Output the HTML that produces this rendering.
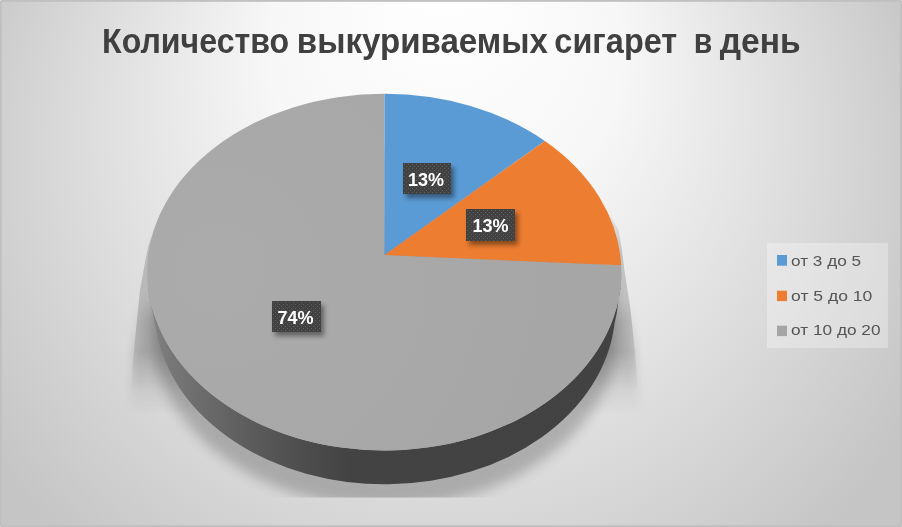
<!DOCTYPE html>
<html><head><meta charset="utf-8">
<style>
html,body{margin:0;padding:0;width:902px;height:527px;overflow:hidden;background:#d0d0d0;}
#c{position:relative;width:902px;height:527px;}
svg{position:absolute;left:0;top:0;will-change:transform;}
.t{font-family:"Liberation Sans","DejaVu Sans",sans-serif;}
</style></head><body><div id="c">
<svg width="902" height="527" viewBox="0 0 902 527">
<defs>
<radialGradient id="bg" gradientUnits="userSpaceOnUse" cx="440.3" cy="206.52" r="519.2" fx="447.6" fy="-25.06" gradientTransform="scale(1 0.96154)">
<stop offset="0" stop-color="#ffffff"/>
<stop offset="0.337" stop-color="#f7f7f7"/>
<stop offset="1" stop-color="#c5c5c5"/>
</radialGradient>
<linearGradient id="wall" gradientUnits="userSpaceOnUse" x1="150" y1="0" x2="622" y2="0">
<stop offset="0" stop-color="#828282"/>
<stop offset="0.042" stop-color="#787878"/>
<stop offset="0.106" stop-color="#6c6c6c"/>
<stop offset="0.212" stop-color="#5c5c5c"/>
<stop offset="0.318" stop-color="#4e4e4e"/>
<stop offset="0.424" stop-color="#434343"/>
<stop offset="1" stop-color="#424242"/>
</linearGradient>
<radialGradient id="gtop" gradientUnits="userSpaceOnUse" cx="220" cy="270" r="360">
<stop offset="0" stop-color="#ababab"/>
<stop offset="1" stop-color="#a6a6a6"/>
</radialGradient>
<filter id="sh1" x="-20%" y="-20%" width="140%" height="140%"><feGaussianBlur stdDeviation="0.6"/></filter>
<filter id="sh3" x="-20%" y="-20%" width="140%" height="140%"><feGaussianBlur stdDeviation="5"/></filter>
<filter id="sh2" x="-20%" y="-20%" width="140%" height="140%"><feGaussianBlur stdDeviation="6.5"/></filter>
<filter id="lsh" x="-30%" y="-30%" width="160%" height="160%"><feGaussianBlur stdDeviation="2.5"/></filter>
</defs>
<!-- background -->
<rect x="0" y="0" width="902" height="527" fill="url(#bg)"/>
<!-- border -->
<rect x="0.9" y="0.9" width="900.2" height="525.2" fill="none" stroke="#c0c0c0" stroke-width="1.8"/>
<rect x="0" y="0" width="1" height="1" fill="#e6e6e6"/><rect x="901" y="0" width="1" height="1" fill="#dcdcdc"/><rect x="901" y="526" width="1" height="1" fill="#cccccc"/><rect x="0" y="526" width="1" height="1" fill="#d0d0d0"/>

<!-- pie shadow -->
<clipPath id="shclip"><rect x="0" y="0" width="902" height="497.5"/></clipPath>
<linearGradient id="wfade" gradientUnits="userSpaceOnUse" x1="0" y1="205" x2="0" y2="400">
<stop offset="0" stop-color="#000"/><stop offset="0.23" stop-color="#fff"/><stop offset="0.6" stop-color="#fff"/><stop offset="0.95" stop-color="#000"/>
</linearGradient>
<linearGradient id="wfade2" gradientUnits="userSpaceOnUse" x1="0" y1="300" x2="0" y2="415">
<stop offset="0" stop-color="#000"/><stop offset="0.45" stop-color="#fff"/><stop offset="1" stop-color="#000"/>
</linearGradient>
<mask id="wmask" maskUnits="userSpaceOnUse" x="0" y="0" width="902" height="527"><rect x="0" y="0" width="902" height="527" fill="url(#wfade)"/></mask>
<mask id="wmask2" maskUnits="userSpaceOnUse" x="0" y="0" width="902" height="527"><rect x="0" y="0" width="902" height="527" fill="url(#wfade2)"/></mask>
<g clip-path="url(#shclip)">
<g mask="url(#wmask)">
<path d="M164.6,205 L158,218 L153,232 L148.5,245 L145.5,260 L140,290 L137.3,316.6 L134.6,343.2 L132.8,364.5 L131,390 L130,440 L640,440 L638,390 L635,355 L632.7,330 L630,306 L627,287 L624.2,268 L621.8,249 L618.5,230 L604,205 Z" fill="#000" opacity="0.17" filter="url(#sh1)"/>
</g>
<g mask="url(#wmask2)">
<path d="M164.6,205 L158,218 L153,232 L148.5,245 L145.5,260 L140,290 L137.3,316.6 L134.6,343.2 L132.8,364.5 L131,390 L130,440 L640,440 L638,390 L635,355 L632.7,330 L630,306 L627,287 L624.2,268 L621.8,249 L618.5,230 L604,205 Z" fill="#000" opacity="0.15" filter="url(#sh3)"/>
</g>
<ellipse cx="385" cy="329" rx="233" ry="178" fill="#000" opacity="0.22" filter="url(#sh2)"/>
</g>

<!-- wall -->
<path d="M147.22,272.13 L147.8,285 L150.2,297.6 L151.3,305.7 L153.5,317 L156.4,330.1 A230.37,176.13 0 0,0 614.4,324.2 L616.8,312.8 L618.5,299 L620.5,285 L621.32,272.13 A237.05,178.4 0 0,1 147.22,272.13 Z" fill="url(#wall)"/>
<!-- top surface slices -->
<path d="M384.5,255.1 L621.15,265.3 A237.05,178.4 0 1,1 384.5,93.73 Z" fill="url(#gtop)"/>
<path d="M384.5,255.1 L384.5,93.73 A237.05,178.4 0 0,1 544.9,140.93 Z" fill="#5b9bd5"/>
<path d="M384.5,255.1 L544.9,140.93 A237.05,178.4 0 0,1 621.15,265.3 Z" fill="#ed7d31"/>

<!-- title -->
<g class="t" font-size="35" font-weight="bold" fill="#404040">
<text transform="translate(102.06 53) scale(0.9179 1)">Количество</text>
<text transform="translate(296.81 53) scale(0.9460 1)">выкуриваемых</text>
<text transform="translate(554.37 53) scale(0.9267 1)">сигарет</text>
<text transform="translate(693.78 53) scale(0.8611 1)">в</text>
<text transform="translate(719.80 53) scale(0.9602 1)">день</text>
</g>

<!-- data labels -->
<pattern id="dp0" x="403" y="163" width="4" height="4" patternUnits="userSpaceOnUse"><rect width="4" height="4" fill="#414141"/><rect x="1" y="1" width="1" height="1" fill="#5e5e5e"/><rect x="3" y="3" width="1" height="1" fill="#5e5e5e"/></pattern>
<rect x="406" y="167" width="48" height="31" fill="#000" opacity="0.42" filter="url(#lsh)"/>
<rect x="403" y="163" width="48" height="31" fill="url(#dp0)"/>
<text class="t" x="408.1" y="186" font-size="18" font-weight="bold" fill="#fff">13%</text>
<pattern id="dp1" x="466" y="209" width="4" height="4" patternUnits="userSpaceOnUse"><rect width="4" height="4" fill="#414141"/><rect x="1" y="1" width="1" height="1" fill="#5e5e5e"/><rect x="3" y="3" width="1" height="1" fill="#5e5e5e"/></pattern>
<rect x="469" y="213" width="49" height="32" fill="#000" opacity="0.42" filter="url(#lsh)"/>
<rect x="466" y="209" width="49" height="32" fill="url(#dp1)"/>
<text class="t" x="472.5" y="232" font-size="18" font-weight="bold" fill="#fff">13%</text>
<pattern id="dp2" x="272" y="301" width="4" height="4" patternUnits="userSpaceOnUse"><rect width="4" height="4" fill="#414141"/><rect x="1" y="1" width="1" height="1" fill="#5e5e5e"/><rect x="3" y="3" width="1" height="1" fill="#5e5e5e"/></pattern>
<rect x="275" y="305" width="49" height="31" fill="#000" opacity="0.42" filter="url(#lsh)"/>
<rect x="272" y="301" width="49" height="31" fill="url(#dp2)"/>
<text class="t" x="277.5" y="324" font-size="18" font-weight="bold" fill="#fff">74%</text>

<!-- legend -->
<rect x="767" y="243" width="121" height="105" fill="#ffffff" opacity="0.3"/>
<rect x="777" y="255" width="10" height="10.7" fill="#5b9bd5"/>
<rect x="777" y="290.7" width="10" height="10.4" fill="#ed7d31"/>
<rect x="777" y="325.7" width="10" height="10.4" fill="#a5a5a5"/>
<g class="t" font-size="15.5" fill="#555555">
<text transform="translate(791.09 265.9) scale(1.1065 1)">от 3 до 5</text>
<text transform="translate(791.07 300.8) scale(1.1314 1)">от 5 до 10</text>
<text transform="translate(791.09 335.0) scale(1.1127 1)">от 10 до 20</text>
</g>
</svg>
</div></body></html>
